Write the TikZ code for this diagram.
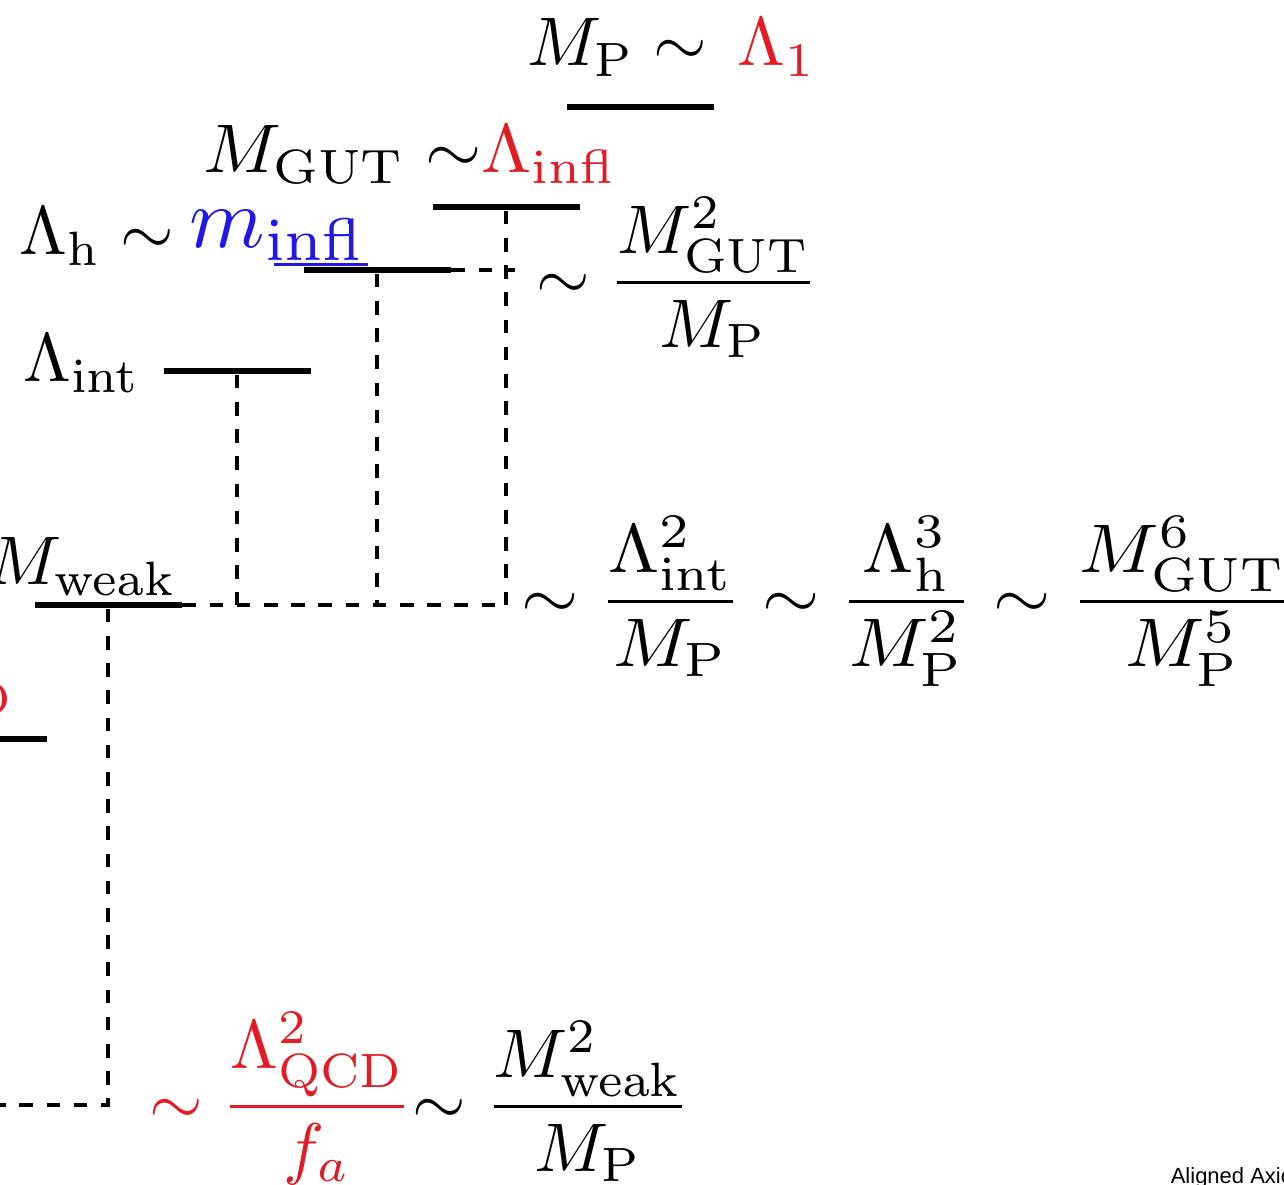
\documentclass[tikz,border=0pt]{standalone}
\usepackage[no-math]{fontspec}
\newfontfamily\notefont{Liberation Sans}
\usepackage{xcolor}
\usetikzlibrary{positioning}
\definecolor{scalered}{RGB}{226,28,36}
\definecolor{scaleblue}{RGB}{32,24,228}

\begin{document}
\begin{tikzpicture}[
    x=0.25pt, y=-0.25pt,
    level/.style={fill=black, inner sep=0, minimum width=36.75pt, minimum height=1.5pt},
    link/.style={line width=1.1pt, dash pattern=on 3.4pt off 3.4pt},
    lab/.style={inner sep=0, font=\normalsize, scale=1.72}
]
\useasboundingbox (0,0) rectangle (1284,1185);

% levels
\node[level] (P) at (640,107) {};
\node[level] (gut) at (506,207) {};
\node[level] (h) at (377,270) {};
\node[level] (int) at (237,371) {};
\node[level] (weak) at (108,605) {};
\node[level] (qcd) at (-27,739) {};
\coordinate (bot) at (108,1105);

% labels of the levels
\node[lab, anchor=base] (Plab) at (672,66) {$M_{\rm P} \sim \,\textcolor{scalered}{\Lambda_1}$};
\node[lab, xscale=1.05, anchor=base east] (gutlab) at (618,173) {$M_{\rm GUT} \sim$\textcolor{scalered}{$\Lambda_{\rm infl}$}};
\node[lab, anchor=base west] (hlab) at (18,255) {$\Lambda_{\rm h} \sim$};
\node[lab, scale=1.25, anchor=base west, text=scaleblue] (mlab) at (188,248) {$m_{\rm infl}$};
\node[lab, anchor=base west] (intlab) at (22,382) {$\Lambda_{\rm int}$};
\node[lab, anchor=base east] (weaklab) at (178,585) {$M_{\rm weak}$};
\node[lab, anchor=base east] (qcdlab) at (16,705) {\textcolor{scalered}{$\Lambda_{\rm QCD}$}};
\draw[scaleblue, line width=0.7pt] ([xshift=-23.5pt, yshift=-0.4pt]mlab.south east) -- ([yshift=-0.4pt]mlab.south east);

% relations
\node[lab, anchor=base west] (rel1) at (535,300) {$\displaystyle \sim \frac{M_{\rm GUT}^2}{M_{\rm P}}$};
\node[lab, xscale=1.07, anchor=base west] (rel2) at (520,619) {$\displaystyle \sim \frac{\Lambda_{\rm int}^2}{M_{\rm P}} \sim \frac{\Lambda_{\rm h}^3}{M_{\rm P}^2} \sim \frac{M_{\rm GUT}^6}{M_{\rm P}^5}$};
\node[lab, anchor=base west] (rel3) at (148,1124) {\textcolor{scalered}{$\displaystyle \sim \frac{\Lambda_{\rm QCD}^2}{f_a}$}$\displaystyle \sim \frac{M_{\rm weak}^2}{M_{\rm P}}$};

% dashed links
\draw[link] (gut.south) -- (gut |- weak);
\draw[link] (h.south) -- (h |- weak);
\draw[link] (int.south) -- (int |- weak);
\draw[link] (weak.east) -- (gut |- weak);
\draw[link, shorten >=5pt] (h.east) -- (h.east -| rel1.west);
\draw[link] (weak.south) -- (bot) -| (qcd.south);

\node[anchor=base west, inner sep=0, font=\notefont\fontsize{5.5}{6}\selectfont] (note) at (1170,1183) {Aligned Axion};
\end{tikzpicture}
\end{document}
